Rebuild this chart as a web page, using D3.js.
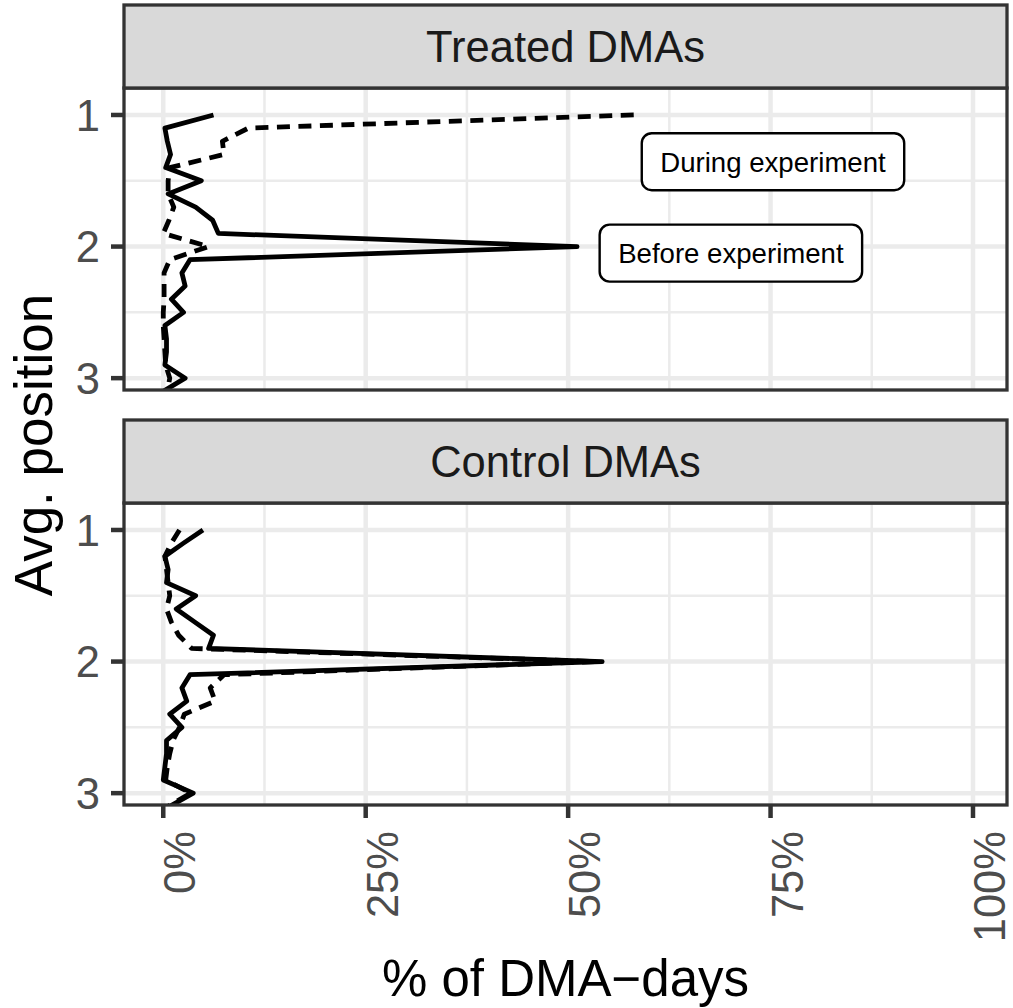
<!DOCTYPE html>
<html>
<head>
<meta charset="utf-8">
<script src="https://cdn.jsdelivr.net/npm/d3@7"></script>
<style>
  body { margin: 0; background: #fff; }
  svg { display: block; font-family: "Liberation Sans", Arial, Helvetica, sans-serif; }
</style>
</head>
<body>
<svg id="chart" width="1013" height="1008"></svg>
<script>
// avg. position bins (y) and % of DMA-days (x)
const POSITIONS = [1.0, 1.1, 1.2, 1.3, 1.4, 1.5, 1.6, 1.7, 1.8, 1.9, 2.0,
  2.1, 2.2, 2.3, 2.4, 2.5, 2.6, 2.7, 2.8, 2.9, 3.0, 3.1]

const TREATED_BEFORE = [6.2, 0.2, 0.5, 0.9, 0.3, 4.7, 0.6, 4.0, 6.1, 6.8, 51.1,
  3.3, 2.3, 2.7, 1.0, 2.5, 0.2, 0.4, 0.4, 0.2, 2.7, 0.0]
const TREATED_DURING = [58.1, 10.5, 7.3, 7.5, 0.8, 0.6, 0.6, 1.3, 0.7, 0.0, 5.6,
  0.8, 0.1, 0.1, 0.1, 0.0, 0.0, 0.1, 0.2, 0.3, 0.8, 0.5]
const CONTROL_BEFORE = [4.9, 2.5, 0.2, 0.6, 0.4, 4.0, 1.6, 3.9, 6.2, 5.6, 54.2,
  3.3, 2.3, 2.9, 0.8, 2.3, 0.4, 0.4, 0.2, 0.0, 3.7, 0.8]
const CONTROL_DURING = [2.0, 1.0, 0.2, 0.4, 0.6, 0.8, 0.4, 1.0, 1.9, 3.5, 53.5,
  7.5, 5.8, 6.4, 2.6, 2.0, 1.2, 0.8, 0.5, 0.3, 3.4, 0.6]

const PANELS = ['Treated DMAs', 'Control DMAs']
const X_TICKS = [0, 25, 50, 75, 100]
const X_MINOR = [12.5, 37.5, 62.5, 87.5]
const Y_TICKS = [1, 2, 3]
const Y_MINOR = [1.5, 2.5]

const LABELS = [
  { text: 'During experiment', pct: 75.3, pos: 1.355 },
  { text: 'Before experiment', pct: 70.1, pos: 2.05 }
]

const series = [
  [{ values: TREATED_BEFORE, dash: null }, { values: TREATED_DURING, dash: '13,8.5' }],
  [{ values: CONTROL_BEFORE, dash: null }, { values: CONTROL_DURING, dash: '13,8.5' }]
]

const left = 124, right = 1007
const stripTop = 5, stripH = 83, panelH = 302, gap = 30

const svg = d3.select('#chart')

const x = d3.scaleLinear()
  .domain([-4.85, 104.2])
  .range([left, right])

const y = d3.scaleLinear()
  .domain([0.795, 3.09])
  .range([0, panelH])

const line = d3.line()
  .x(d => x(d[1]))
  .y(d => y(d[0]))

PANELS.forEach((name, i) => {
  const top = stripTop + i * (stripH + panelH + gap)
  const g = svg.append('g').attr('transform', `translate(0, ${top + stripH})`)

  // strip
  svg.append('rect')
    .attr('x', left).attr('y', top)
    .attr('width', right - left).attr('height', stripH)
    .attr('fill', '#d9d9d9')
    .attr('stroke', '#333').attr('stroke-width', 3.3)
  svg.append('text')
    .attr('x', (left + right) / 2).attr('y', top + stripH / 2)
    .attr('dy', '0.36em')
    .attr('text-anchor', 'middle')
    .attr('font-size', 43.5)
    .attr('fill', '#1a1a1a')
    .text(name)

  g.append('rect')
    .attr('x', left).attr('width', right - left).attr('height', panelH)
    .attr('fill', '#fff')

  // grid
  g.selectAll('.xminor').data(X_MINOR).enter().append('line')
    .attr('x1', d => x(d)).attr('x2', d => x(d))
    .attr('y1', 0).attr('y2', panelH)
    .attr('stroke', '#ebebeb').attr('stroke-width', 2.5)
  g.selectAll('.yminor').data(Y_MINOR).enter().append('line')
    .attr('x1', left).attr('x2', right)
    .attr('y1', d => y(d)).attr('y2', d => y(d))
    .attr('stroke', '#ebebeb').attr('stroke-width', 2.5)
  g.selectAll('.xmajor').data(X_TICKS).enter().append('line')
    .attr('x1', d => x(d)).attr('x2', d => x(d))
    .attr('y1', 0).attr('y2', panelH)
    .attr('stroke', '#ebebeb').attr('stroke-width', 4.5)
  g.selectAll('.ymajor').data(Y_TICKS).enter().append('line')
    .attr('x1', left).attr('x2', right)
    .attr('y1', d => y(d)).attr('y2', d => y(d))
    .attr('stroke', '#ebebeb').attr('stroke-width', 4.5)

  // lines, clipped to the panel
  g.append('clipPath').attr('id', `clip${i}`)
    .append('rect')
      .attr('x', left).attr('width', right - left).attr('height', panelH)

  g.append('g')
    .attr('clip-path', `url(#clip${i})`)
    .selectAll('path')
    .data(series[i])
    .enter()
    .append('path')
      .attr('d', s => line(POSITIONS.map((p, j) => [p, s.values[j]])))
      .attr('fill', 'none')
      .attr('stroke', '#000')
      .attr('stroke-width', 4.8)
      .attr('stroke-linejoin', 'round')
      .attr('stroke-dasharray', s => s.dash)

  if (i === 0) {
    const labels = g.selectAll('.label')
      .data(LABELS)
      .enter()
      .append('g')
        .attr('transform', d => `translate(${x(d.pct)}, ${y(d.pos)})`)
    labels.append('text')
      .attr('text-anchor', 'middle')
      .attr('dy', '0.36em')
      .attr('font-size', 27.6)
      .attr('fill', '#000')
      .text(d => d.text)
    labels.insert('rect', 'text')
      .each(function () {
        const w = this.parentNode.querySelector('text').getComputedTextLength() + 37
        d3.select(this)
          .attr('x', -w / 2).attr('y', -28.5)
          .attr('width', w).attr('height', 57)
      })
      .attr('rx', 10)
      .attr('fill', '#fff')
      .attr('stroke', '#000')
      .attr('stroke-width', 2.4)
  }

  g.append('rect')
    .attr('x', left).attr('width', right - left).attr('height', panelH)
    .attr('fill', 'none')
    .attr('stroke', '#333').attr('stroke-width', 3.3)

  // y axis
  g.selectAll('.ytick').data(Y_TICKS).enter().append('line')
    .attr('x1', left - 13).attr('x2', left)
    .attr('y1', d => y(d)).attr('y2', d => y(d))
    .attr('stroke', '#333').attr('stroke-width', 4.5)
  g.selectAll('.ylab').data(Y_TICKS).enter().append('text')
    .attr('x', 100).attr('y', d => y(d))
    .attr('dy', '0.36em')
    .attr('text-anchor', 'end')
    .attr('font-size', 43.5)
    .attr('fill', '#4d4d4d')
    .text(d => d)

  // x axis on the bottom panel
  if (i === PANELS.length - 1) {
    g.selectAll('.xtick').data(X_TICKS).enter().append('line')
      .attr('x1', d => x(d)).attr('x2', d => x(d))
      .attr('y1', panelH).attr('y2', panelH + 13)
      .attr('stroke', '#333').attr('stroke-width', 4.5)
    g.selectAll('.xlab').data(X_TICKS).enter().append('text')
      .attr('transform', d => `translate(${x(d) + 32}, ${panelH + 26}) rotate(-90)`)
      .attr('text-anchor', 'end')
      .attr('font-size', 43.5)
      .attr('fill', '#4d4d4d')
      .text(d => `${d}%`)
  }
})

svg.append('text')
  .attr('transform', 'translate(52, 445) rotate(-90)')
  .attr('text-anchor', 'middle')
  .attr('font-size', 53)
  .attr('fill', '#000')
  .text('Avg. position')

svg.append('text')
  .attr('x', (left + right) / 2).attr('y', 996)
  .attr('text-anchor', 'middle')
  .attr('font-size', 51)
  .attr('fill', '#000')
  .text('% of DMA\u2212days')
</script>
</body>
</html>
